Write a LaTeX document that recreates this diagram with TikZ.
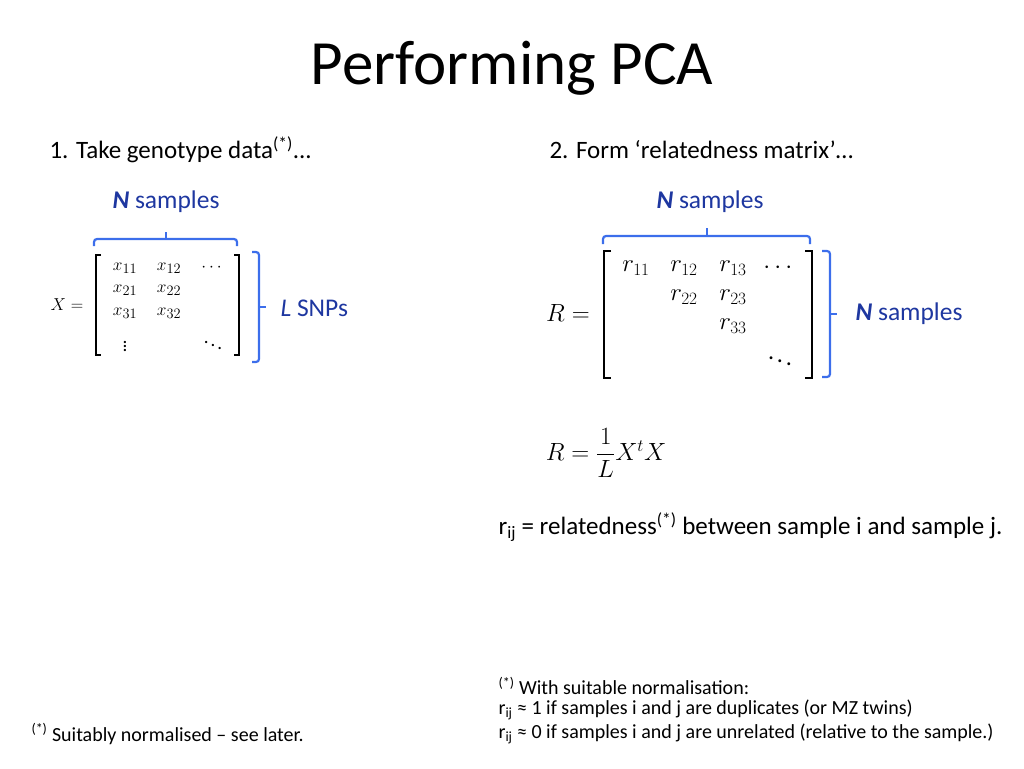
\documentclass[tikz,border=0pt]{standalone}
\usepackage{fontspec}
\setmainfont{Carlito}
\usepackage{amsmath}
\definecolor{bracecol}{RGB}{60,110,235}
\definecolor{labcol}{RGB}{30,55,160}
\begin{document}
\begin{tikzpicture}[x=1pt,y=-1pt,
  brk/.style={line width=1.2pt},
  brc/.style={bracecol,line width=2.2pt,rounded corners=3pt},
  lab/.style={labcol,font=\fontsize{25.5}{28}\selectfont},
  body/.style={anchor=west,font=\fontsize{25}{28}\selectfont},
  foot/.style={anchor=west,font=\fontsize{20}{23}\selectfont},
  ent/.style={font=\fontsize{19}{21}\selectfont},
  entr/.style={font=\fontsize{24}{26}\selectfont}]
\useasboundingbox (0,0) rectangle (1024,768);
\node (title) at (512,68) {\fontsize{63}{70}\selectfont Performing PCA};
\node[body] (s1) at (46,150) {1. Take genotype data\textsuperscript{(*)}...};
\node[body] (s2) at (546,150) {2. Form ‘relatedness matrix’…};
% left matrix
\node[ent] (X) at (67,305) {$X=$};
\draw[brk] (101,255) -- (96,255) -- (96,355) -- (101,355);
\draw[brk] (234,255) -- (239,255) -- (239,355) -- (234,355);
\node[ent] (x11) at (125,268) {$x_{11}$};
\node[ent] (x12) at (169,268) {$x_{12}$};
\node[ent] (xd) at (213,268) {$\cdots$};
\node[ent] (x21) at (125,290) {$x_{21}$};
\node[ent] (x22) at (169,290) {$x_{22}$};
\node[ent] (x31) at (125,313) {$x_{31}$};
\node[ent] (x32) at (169,313) {$x_{32}$};
\node[ent,inner sep=0pt] (xv) at (125,343) {$\vdots$};
\node[ent] (xdd) at (213,342) {$\ddots$};
\draw[brc] (94,246) -- (94,239) -- (237,239) -- (237,246);
\draw[brc,rounded corners=0pt] (166,239) -- (166,232);
\node[lab] (ns1) at (166,202) {\textbf{\textit{N}} samples};
\draw[brc] (252,252) -- (259,252) -- (259,362) -- (252,362);
\draw[brc,rounded corners=0pt] (259,307) -- (266,307);
\node[lab,anchor=west] (lsnp) at (277,308) {\textit{L} SNPs};
% right matrix
\node[entr] (R) at (568,313) {$R=$};
\draw[brk] (611,251) -- (604,251) -- (604,378) -- (611,378);
\draw[brk] (805,251) -- (812,251) -- (812,378) -- (805,378);
\node[entr] (r11) at (636,268) {$r_{11}$};
\node[entr] (r12) at (684,268) {$r_{12}$};
\node[entr] (r13) at (733,268) {$r_{13}$};
\node[entr] (rd) at (780,268) {$\cdots$};
\node[entr] (r22) at (684,297) {$r_{22}$};
\node[entr] (r23) at (733,297) {$r_{23}$};
\node[entr] (r33) at (733,326) {$r_{33}$};
\node[entr] (rdd) at (780,358) {$\ddots$};
\draw[brc] (603,244) -- (603,236) -- (810,236) -- (810,244);
\draw[brc,rounded corners=0pt] (707,236) -- (707,228);
\node[lab] (ns2) at (710,202) {\textbf{\textit{N}} samples};
\draw[brc] (822,251) -- (830,251) -- (830,377) -- (822,377);
\draw[brc,rounded corners=0pt] (830,314) -- (837,314);
\node[lab,anchor=west] (ns3) at (852,314) {\textbf{\textit{N}} samples};
% formula
\node[font=\fontsize{27}{30}\selectfont] (form) at (606,453) {$R=\dfrac{1}{L}X^tX$};
\node[body] (rij) at (495,527) {r\textsubscript{ij} = relatedness\textsuperscript{(*)} between sample i and sample j.};
\node[foot] (f1) at (495,686) {\textsuperscript{(*)} With suitable normalisation:};
\node[foot] (f2) at (495,710) {r\textsubscript{ij} ≈ 1 if samples i and j are duplicates (or MZ twins)};
\node[foot] (f3) at (495,734) {r\textsubscript{ij} ≈ 0 if samples i and j are unrelated (relative to the sample.)};
\node[foot] (fl) at (28,734) {\textsuperscript{(*)} Suitably normalised – see later.};
\end{tikzpicture}
\end{document}
